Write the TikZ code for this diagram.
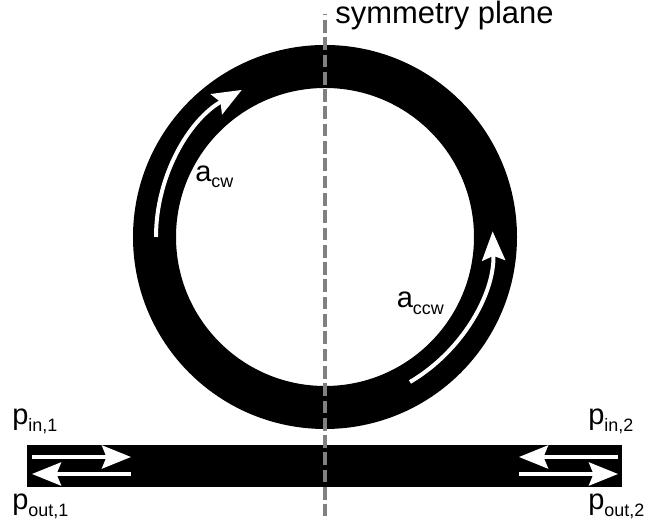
\documentclass[tikz,border=0pt]{standalone}
\usepackage{fontspec}
\setmainfont{Liberation Sans}
\usepackage{tikz}
\usetikzlibrary{arrows.meta}
\newcommand{\subtxt}[1]{\raisebox{-0.22em}{\fontsize{10.2}{11}\selectfont #1}}
\tikzset{
  flow/.style = {white, line width=0.08cm, -{Stealth[length=0.58cm, width=0.46cm, inset=0.09cm]}},
  lbl/.style = {anchor=base west, inner sep=0pt, font=\fontsize{16.5}{18}\selectfont},
}

\begin{document}
\begin{tikzpicture}
\useasboundingbox (0, 0) rectangle (12.96, 10.52);
\draw[line width=0.86cm] (6.5, 5.78) circle(3.41);
\fill[black] (0.54, 0.78) rectangle (12.44, 1.62);
\draw[gray, line width=0.086cm, dash pattern=on 0.254cm off 0.092cm, dash phase=0.236cm] (6.5, 10.23) -- (6.5, 0.2);
% ring
\draw[flow] (3.12, 5.78) arc(180:119.5:3.38);
\draw[flow] (8.2, 2.88) arc(-59.5:2:3.36);
% bus
\draw[flow] (0.64, 1.38) -- (2.62, 1.38);
\draw[flow] (2.62, 1.04) -- (0.64, 1.04);
\draw[flow] (12.36, 1.38) -- (10.38, 1.38);
\draw[flow] (10.38, 1.04) -- (12.36, 1.04);
\node[lbl, font=\fontsize{17.6}{20}\selectfont] (plane) at (6.7, 10.05) {symmetry plane};
\node[lbl] (acw) at (3.9, 6.89) {a\subtxt{cw}};
\node[lbl] (accw) at (7.93, 4.36) {a\subtxt{ccw}};
\node[lbl] (pin1) at (0.24, 2.02) {p\subtxt{in,1}};
\node[lbl] (pout1) at (0.24, 0.32) {p\subtxt{out,1}};
\node[lbl] (pin2) at (11.76, 2.02) {p\subtxt{in,2}};
\node[lbl] (pout2) at (11.76, 0.32) {p\subtxt{out,2}};
\end{tikzpicture}
\end{document}
